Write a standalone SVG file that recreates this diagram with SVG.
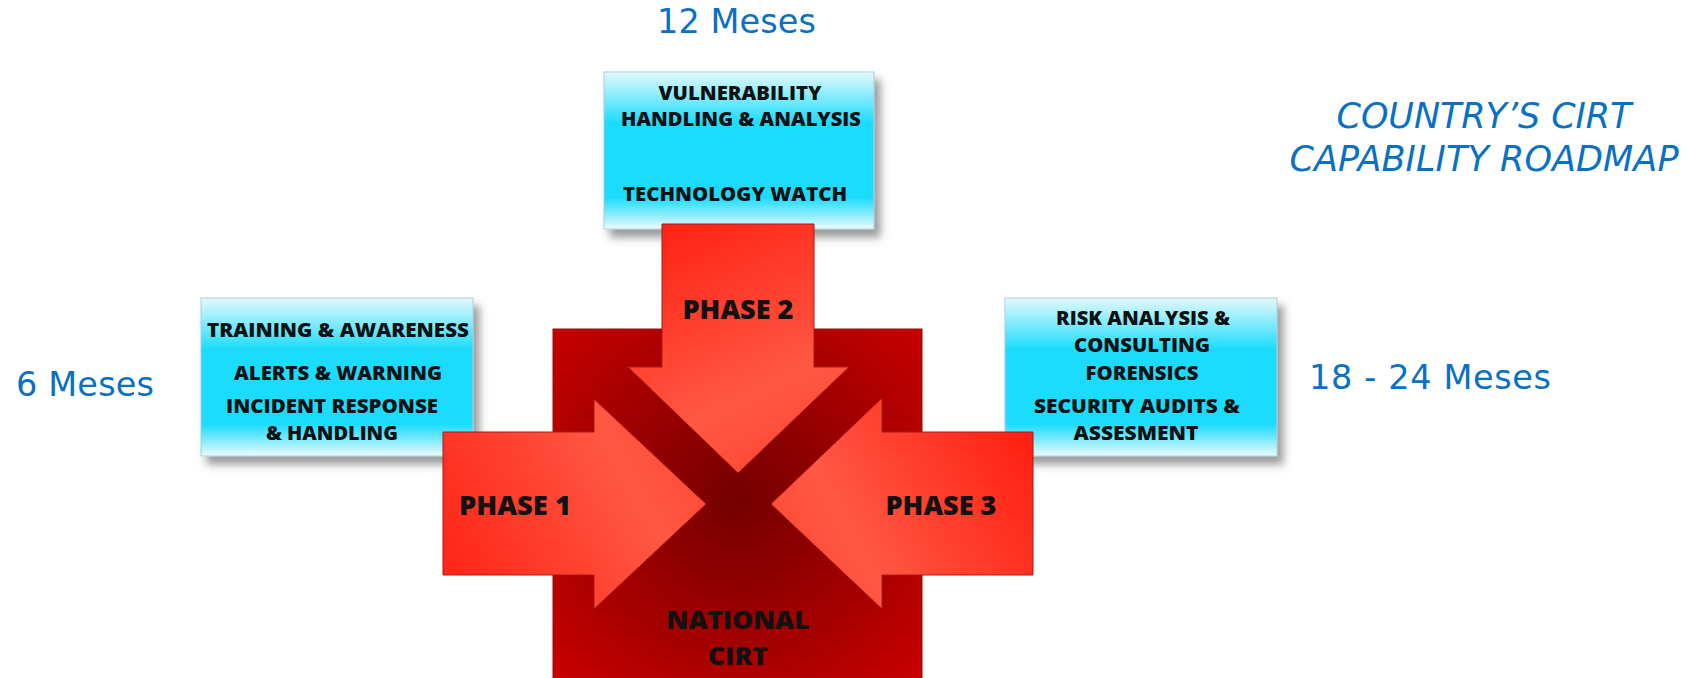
<svg xmlns="http://www.w3.org/2000/svg" width="1689" height="678" viewBox="0 0 1689 678">
  <defs>
    <style>
      .cap { font-family: "Open Sans", "Lato", "Liberation Sans", sans-serif; font-weight: 800; fill: #111111; text-anchor: middle; }
      .box-text { font-size: 19.5px; }
      .phase-text { font-size: 26px; }
      .core-text { font-size: 25px; }
      .period { font-family: "DejaVu Sans", "Liberation Sans", sans-serif; font-size: 33.5px; fill: #0a70c2; }
      .title { font-family: "DejaVu Sans", "Liberation Sans", sans-serif; font-size: 35px; font-style: italic; fill: #0a70c2; text-anchor: middle; }
      .box { fill: url(#boxFill); stroke: #a9cfdb; stroke-width: 1; filter: url(#boxShadow); }
      .arrow { stroke: #a81a14; stroke-width: 1; }
    </style>
    <linearGradient id="boxFill" x1="0" y1="0" x2="0" y2="1">
      <stop offset="0" stop-color="#e4f9fd"/>
      <stop offset="0.2" stop-color="#6ae8fd"/>
      <stop offset="0.32" stop-color="#1edcfe"/>
      <stop offset="0.8" stop-color="#1edcfe"/>
      <stop offset="0.9" stop-color="#80ebfc"/>
      <stop offset="1" stop-color="#eefbfe"/>
    </linearGradient>
    <filter id="boxShadow" x="-10%" y="-10%" width="130%" height="135%">
      <feDropShadow dx="6" dy="8" stdDeviation="4" flood-color="#4a4a4a" flood-opacity="0.55"/>
    </filter>
    <radialGradient id="coreFill" gradientUnits="userSpaceOnUse" cx="738" cy="500" r="300">
      <stop offset="0" stop-color="#740000"/>
      <stop offset="0.45" stop-color="#a00000"/>
      <stop offset="1" stop-color="#d80000"/>
    </radialGradient>
    <linearGradient id="arrowRight" gradientUnits="userSpaceOnUse" x1="443" y1="575" x2="706" y2="432">
      <stop offset="0" stop-color="#ff2416"/>
      <stop offset="0.7" stop-color="#ff5843"/>
      <stop offset="1" stop-color="#ff4632"/>
    </linearGradient>
    <linearGradient id="arrowDown" gradientUnits="userSpaceOnUse" x1="662" y1="224" x2="780" y2="473">
      <stop offset="0" stop-color="#ff2214"/>
      <stop offset="0.7" stop-color="#ff5843"/>
      <stop offset="1" stop-color="#ff4632"/>
    </linearGradient>
    <linearGradient id="arrowLeft" gradientUnits="userSpaceOnUse" x1="1033" y1="432" x2="771" y2="575">
      <stop offset="0" stop-color="#ff1e10"/>
      <stop offset="0.7" stop-color="#ff5843"/>
      <stop offset="1" stop-color="#ff4632"/>
    </linearGradient>
  </defs>

  <rect width="1689" height="678" fill="#ffffff"/>

  <!-- timeline labels and title -->
  <text class="period" x="657" y="33" textLength="159">12 Meses</text>
  <text class="period" x="16" y="396" textLength="138">6 Meses</text>
  <text class="period" x="1309" y="389" textLength="242">18 - 24 Meses</text>
  <text class="title" x="1484" y="128" textLength="295">COUNTRY’S CIRT</text>
  <text class="title" x="1484" y="171" textLength="389">CAPABILITY ROADMAP</text>

  <!-- capability boxes -->
  <g id="box-phase2">
    <rect class="box" x="604" y="72" width="270" height="157"/>
    <text class="cap box-text" x="740" y="100" textLength="163" lengthAdjust="spacingAndGlyphs">VULNERABILITY</text>
    <text class="cap box-text" x="741" y="126" textLength="240" lengthAdjust="spacingAndGlyphs">HANDLING &amp; ANALYSIS</text>
    <text class="cap box-text" x="735" y="201" textLength="224" lengthAdjust="spacingAndGlyphs">TECHNOLOGY WATCH</text>
  </g>
  <g id="box-phase1">
    <rect class="box" x="201" y="298" width="272" height="158"/>
    <text class="cap box-text" x="338" y="337" textLength="262" lengthAdjust="spacingAndGlyphs">TRAINING &amp; AWARENESS</text>
    <text class="cap box-text" x="338" y="380" textLength="208" lengthAdjust="spacingAndGlyphs">ALERTS &amp; WARNING</text>
    <text class="cap box-text" x="332" y="413" textLength="212" lengthAdjust="spacingAndGlyphs">INCIDENT RESPONSE</text>
    <text class="cap box-text" x="332" y="440" textLength="132" lengthAdjust="spacingAndGlyphs">&amp; HANDLING</text>
  </g>
  <g id="box-phase3">
    <rect class="box" x="1005" y="298" width="272" height="158"/>
    <text class="cap box-text" x="1143" y="325" textLength="174" lengthAdjust="spacingAndGlyphs">RISK ANALYSIS &amp;</text>
    <text class="cap box-text" x="1142" y="352" textLength="136" lengthAdjust="spacingAndGlyphs">CONSULTING</text>
    <text class="cap box-text" x="1142" y="380" textLength="113" lengthAdjust="spacingAndGlyphs">FORENSICS</text>
    <text class="cap box-text" x="1137" y="413" textLength="206" lengthAdjust="spacingAndGlyphs">SECURITY AUDITS &amp;</text>
    <text class="cap box-text" x="1136" y="440" textLength="125" lengthAdjust="spacingAndGlyphs">ASSESMENT</text>
  </g>

  <!-- central block -->
  <g id="national-cirt">
    <rect x="553" y="329" width="369" height="360" fill="url(#coreFill)" stroke="#9a0a0a" stroke-width="1"/>
  </g>

  <!-- phase arrows converging on the centre -->
  <g id="connectors">
    <g id="phase2">
      <polygon class="arrow" fill="url(#arrowDown)" points="662,224 814,224 814,367 849,367 738,473 628,367 662,367"/>
      <text class="cap phase-text" x="738" y="319" textLength="111" lengthAdjust="spacingAndGlyphs">PHASE 2</text>
    </g>
    <g id="phase1">
      <polygon class="arrow" fill="url(#arrowRight)" points="443,432 594,432 594,399 706,504 594,609 594,575 443,575"/>
      <text class="cap phase-text" x="515" y="515" textLength="112" lengthAdjust="spacingAndGlyphs">PHASE 1</text>
    </g>
    <g id="phase3">
      <polygon class="arrow" fill="url(#arrowLeft)" points="1033,432 882,432 882,398 771,504 882,609 882,575 1033,575"/>
      <text class="cap phase-text" x="941" y="515" textLength="111" lengthAdjust="spacingAndGlyphs">PHASE 3</text>
    </g>
  </g>

  <g id="national-cirt-label">
    <text class="cap core-text" x="738" y="629" textLength="143" lengthAdjust="spacingAndGlyphs">NATIONAL</text>
    <text class="cap core-text" x="738" y="665" textLength="60" lengthAdjust="spacingAndGlyphs">CIRT</text>
  </g>
</svg>
